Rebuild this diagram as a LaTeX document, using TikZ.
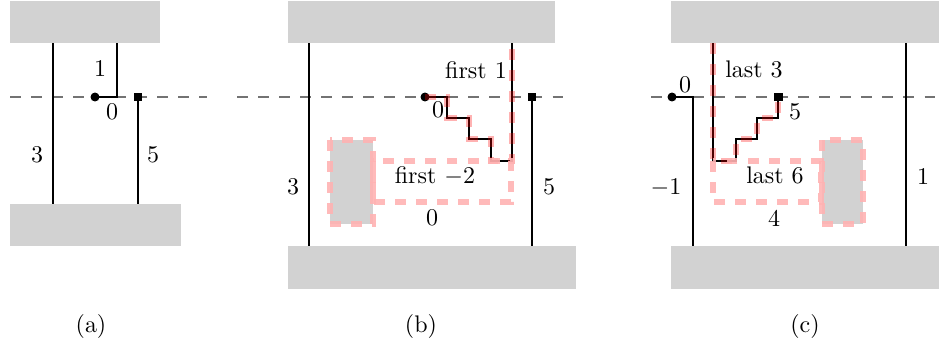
\documentclass[tikz,border=0pt]{standalone}
\usepackage{amsmath}
\usetikzlibrary{positioning}

\begin{document}
\begin{tikzpicture}[
		x=0.01604cm, y=-0.01604cm,
		font=\fontsize{10.95}{13.6}\selectfont,
		wall/.style={fill=gray!35},
		wire/.style={thick, black},
		axis/.style={gray!90!black, line width=0.8pt, dash pattern=on 4.8pt off 4.8pt},
		trace/.style={red!30, opacity=0.9, line width=2.4pt, dash pattern=on 5pt off 4.6pt},
		traceline/.style={red, opacity=0.3, line width=2.4pt, dash pattern=on 5pt off 4.6pt},
		pin/.style={circle, fill=black, inner sep=0pt, minimum size=4.1pt},
		pad/.style={rectangle, fill=black, inner sep=0pt, minimum size=4.1pt}
		]
		
		\useasboundingbox (0,0) rectangle (939,347);
		
		% (a)
		\fill[wall] (10,1) rectangle (160,43);
		\fill[wall] (10,204) rectangle (181,246);
		\draw[axis] (10,97) -- (207,97);
		\node[pin] (a0) at (95,97) {};
		\node[pad] (a5) at (138,97) {};
		\draw[wire] (53,43) -- (53,204);
		\draw[wire] (a0.center) -- (117,97) -- (117,43);
		\draw[wire] (a5.center) -- (138,204);
		\node at (37,155) {3};
		\node at (100,69) {1};
		\node at (112,112) {0};
		\node at (153,155) {5};
		\node at (91,326) {(a)};
		
		% (b)
		\fill[wall] (288,1) rectangle (555,43);
		\fill[wall] (288,246) rectangle (576,289);
		\fill[wall] (330,140) rectangle (373,224);
		\draw[axis] (237,97) -- (565,97);
		\node[pin] (b0) at (425,97) {};
		\node[pad] (b5) at (532,97) {};
		\draw[wire] (309,43) -- (309,246);
		\draw[wire] (b5.center) -- (532,246);
		\draw[wire] (b0.center) -- (447,97) |- (469,118) |- (491,139) |- (512,161) -- (512,43);
		\draw[traceline] (b0.center) -- (447,97) |- (469,118) |- (491,139) |- (512,161) -- (512,43);
		\draw[trace] (330,140) rectangle (373,224);
		\draw[trace] (373,161) rectangle (511,202);
		\node at (293,187) {3};
		\node at (549,187) {5};
		\node at (476,70) {first 1};
		\node at (438,110) {0};
		\node at (435,176) {first $-2$};
		\node at (432,218) {0};
		\node at (421,326) {(b)};
		
		% (c)
		\fill[wall] (671,1) rectangle (939,43);
		\fill[wall] (671,246) rectangle (939,289);
		\fill[wall] (822,140) rectangle (863,224);
		\draw[axis] (651,97) -- (939,97);
		\node[pin] (c0) at (672,97) {};
		\node[pad] (c5) at (778,97) {};
		\draw[wire] (c0.center) -- (693,97) -- (693,246);
		\draw[wire] (906,43) -- (906,246);
		\draw[wire] (713,43) |- (736,161) |- (757,139) |- (778,118) -- (c5.center);
		\draw[traceline] (713,43) |- (736,161) |- (757,139) |- (778,118) -- (c5.center);
		\draw[trace] (713,161) rectangle (821,202);
		\draw[trace] (822,140) rectangle (863,224);
		\node at (666,188) {$-1$};
		\node at (923,177) {1};
		\node at (685,85) {0};
		\node at (754,69) {last 3};
		\node at (795,112) {5};
		\node at (775,175) {last 6};
		\node at (774,218) {4};
		\node at (805,326) {(c)};
		
	\end{tikzpicture}
\end{document}
